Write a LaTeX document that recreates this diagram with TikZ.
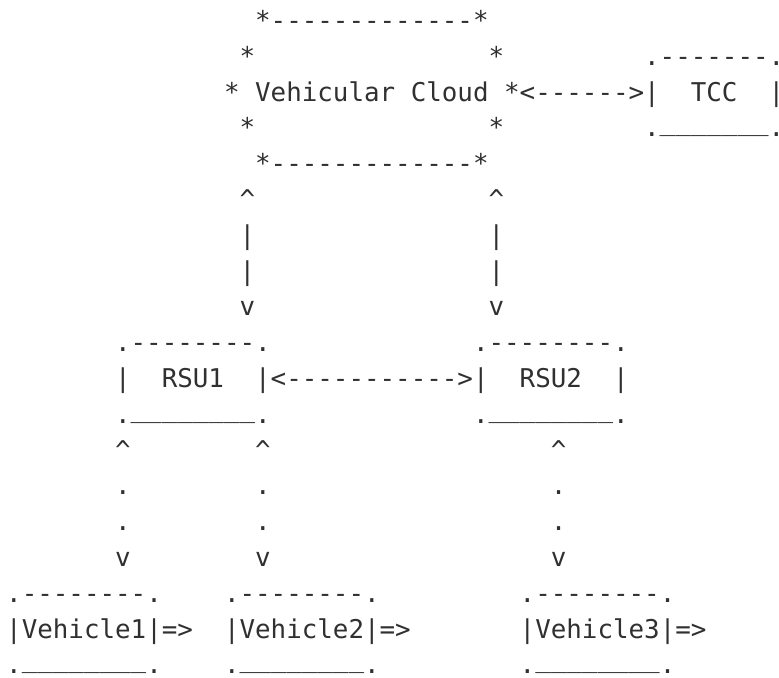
\documentclass[tikz,border=0pt]{standalone}
\usepackage{fontspec}
\setmonofont{DejaVu Sans Mono}
\definecolor{ink}{HTML}{303030}
\tikzset{
  txt/.style={inner sep=0pt, outer sep=0pt, anchor=base west, text=ink,
    font=\ttfamily\fontsize{12.925pt}{14pt}\selectfont}
}
\newcommand\seg[4]{\node[txt] (#1) at ({6.2+#2*15.56},{29.4+#3*35.8}) {#4};}
\newcommand\up{\textasciicircum}
\newcommand\ul[1]{\raisebox{3pt}{#1}}
\begin{document}
\begin{tikzpicture}[x=0.5pt,y=-0.5pt]
\useasboundingbox (0,0) rectangle (779,677);
% Vehicular Cloud
\seg{cloudtop}{16}{0}{*-------------*}
\seg{cloudal}{15}{1}{*}
\seg{cloudar}{31}{1}{*}
\seg{cloudl}{14}{2}{*}
\seg{cloudname}{16}{2}{Vehicular}
\seg{cloudname2}{26}{2}{Cloud}
\seg{cloudtcc}{32}{2}{*<------>|}
\seg{cloudbl}{15}{3}{*}
\seg{cloudbr}{31}{3}{*}
\seg{cloudbot}{16}{4}{*-------------*}
% TCC
\seg{tcctop}{41}{1}{.-------.}
\seg{tcc}{44}{2}{TCC}
\seg{tccr}{49}{2}{|}
\seg{tccbot}{41}{3}{.\ul{\_\_\_\_\_\_\_}.}
% cloud <-> RSU links
\seg{ua}{15}{5}{\up}
\seg{ub}{31}{5}{\up}
\seg{pa1}{15}{6}{|}
\seg{pb1}{31}{6}{|}
\seg{pa2}{15}{7}{|}
\seg{pb2}{31}{7}{|}
\seg{va}{15}{8}{v}
\seg{vb}{31}{8}{v}
% RSUs
\seg{rsuonetop}{7}{9}{.--------.}
\seg{rsutwotop}{30}{9}{.--------.}
\seg{rsuonel}{7}{10}{|}
\seg{rsuone}{10}{10}{RSU1}
\seg{rsulink}{16}{10}{|<----------->|}
\seg{rsutwo}{33}{10}{RSU2}
\seg{rsutwor}{39}{10}{|}
\seg{rsuonebot}{7}{11}{.\ul{\_\_\_\_\_\_\_\_}.}
\seg{rsutwobot}{30}{11}{.\ul{\_\_\_\_\_\_\_\_}.}
% RSU <-> vehicle links
\seg{uc}{7}{12}{\up}
\seg{ud}{16}{12}{\up}
\seg{ue}{35}{12}{\up}
\seg{dc1}{7}{13}{.}
\seg{dd1}{16}{13}{.}
\seg{de1}{35}{13}{.}
\seg{dc2}{7}{14}{.}
\seg{dd2}{16}{14}{.}
\seg{de2}{35}{14}{.}
\seg{vc}{7}{15}{v}
\seg{vd}{16}{15}{v}
\seg{ve}{35}{15}{v}
% Vehicles
\seg{vehonetop}{0}{16}{.--------.}
\seg{vehtwotop}{14}{16}{.--------.}
\seg{vehthreetop}{33}{16}{.--------.}
\seg{vehone}{0}{17}{|Vehicle1|=>}
\seg{vehtwo}{14}{17}{|Vehicle2|=>}
\seg{vehthree}{33}{17}{|Vehicle3|=>}
\seg{vehonebot}{0}{18}{.\ul{\_\_\_\_\_\_\_\_}.}
\seg{vehtwobot}{14}{18}{.\ul{\_\_\_\_\_\_\_\_}.}
\seg{vehthreebot}{33}{18}{.\ul{\_\_\_\_\_\_\_\_}.}
\end{tikzpicture}
\end{document}
